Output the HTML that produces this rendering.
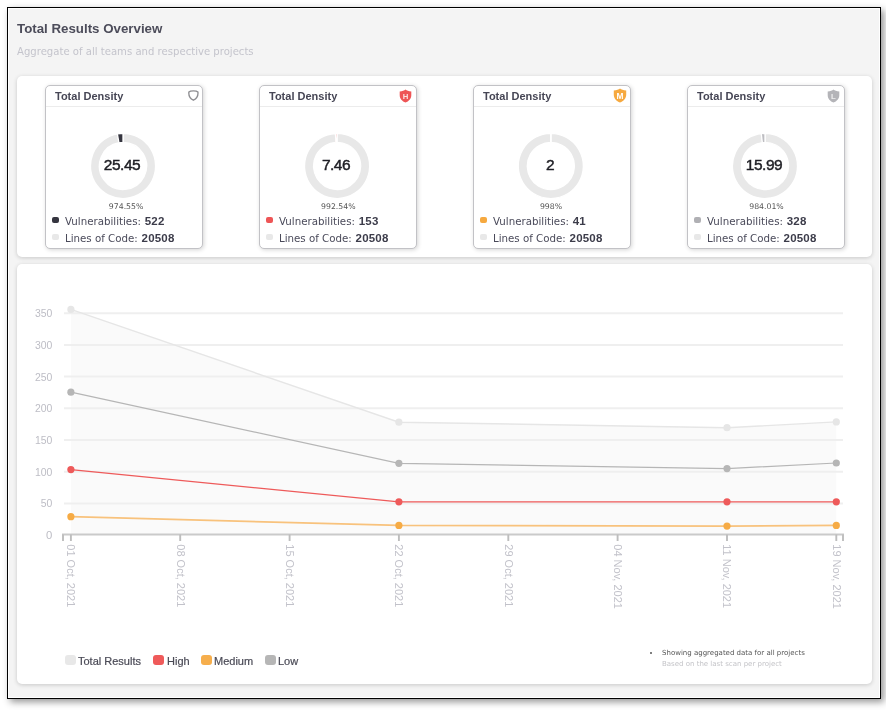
<!DOCTYPE html>
<html><head><meta charset="utf-8"><style>
*{margin:0;padding:0;box-sizing:border-box}
html,body{width:886px;height:711px;background:#fff;overflow:hidden}
body{position:relative;font-family:"DejaVu Sans","Liberation Sans",sans-serif;color:#444}
.frame{position:absolute;left:7px;top:7px;width:874px;height:692px;border:1px solid #000;background:#f4f4f4;box-shadow:3px 3px 7px rgba(0,0,0,.42), inset 0 0 0 1px #fff}
.title{position:absolute;left:17px;top:20.5px;font:bold 13.3px "Liberation Sans",sans-serif;color:#4c4c5a;white-space:nowrap}
.sub{position:absolute;left:17px;top:46px;font-size:10.1px;color:#c4c4cc;white-space:nowrap}
.panel{position:absolute;left:17px;width:855px;background:#fff;border-radius:5px;box-shadow:0 1px 4px rgba(0,0,0,.18)}
.p1{top:76px;height:181px}
.p2{top:264px;height:420px}
.card{position:absolute;top:85px;width:158px;height:164px;border:1px solid #c2c2c6;border-radius:5px;background:#fff;box-shadow:1px 1px 4px rgba(0,0,0,.17)}
.card .hd{position:absolute;left:0;top:0;right:0;height:21px;border-bottom:1px solid #ececec}
.card .ht{position:absolute;left:9px;top:4px;font:bold 11px "Liberation Sans",sans-serif;color:#464655;white-space:nowrap}
.card svg.ic{position:absolute}
.card .donut{position:absolute;left:44px;top:47px}
.card .val{position:absolute;left:-2px;width:100%;top:69.5px;text-align:center;font:15.5px "Liberation Sans",sans-serif;letter-spacing:-0.5px;-webkit-text-stroke:0.45px #1e1e24;color:#1e1e24}
.card .pct{position:absolute;left:1px;width:100%;top:115.5px;text-align:center;font:7.75px "DejaVu Sans",sans-serif;color:#555}
.card .row{position:absolute;left:6px;font-size:10.25px;color:#4a4a5a;white-space:nowrap}
.card .row b{font:bold 11.5px "Liberation Sans",sans-serif;letter-spacing:0.2px;margin-left:0.5px;color:#3c3c4a}
.card .sw{display:inline-block;width:7px;height:6px;border-radius:2px;margin-right:6px;vertical-align:2px}
.r1{top:129px}.r2{top:145.7px}
.leg{position:absolute;top:655px;font:11px "Liberation Sans",sans-serif;-webkit-text-stroke:0.2px #4a4a56;color:#4a4a56;white-space:nowrap}
.leg i{position:absolute;top:0;width:11px;height:10px;border-radius:3px}
.foot{position:absolute;left:662px;margin-top:1px;white-space:nowrap;font-size:7px}

</style></head><body>
<div class="frame"></div>
<div class="title">Total Results Overview</div>
<div class="sub">Aggregate of all teams and respective projects</div>
<div class="panel p1"></div>
<div class="panel p2"></div>
<div class="card" style="left:45px">
  <div class="hd"></div><div class="ht">Total Density</div>
  <svg class="ic" style="left:142px;top:4px" width="12" height="12" viewBox="0 0 12 12"><path d="M5.4 0.8 C7.4 0.8 9.2 1.2 9.9 1.9 C10.3 5.2 8.6 8.6 5.4 10.2 C2.2 8.6 0.5 5.2 0.9 1.9 C1.6 1.2 3.4 0.8 5.4 0.8 Z" fill="#fff" stroke="#8e8e92" stroke-width="1.35"/></svg>
  <svg class="donut" width="66" height="66" viewBox="0 0 66 66"><path d="M33.00 0.45 A32.55 32.55 0 1 1 27.82 0.87 L29.25 9.75 A23.55 23.55 0 1 0 33.00 9.45 Z" fill="#e8e8e8" stroke="#fff" stroke-width="1.3"/><path d="M27.37 0.94 A32.55 32.55 0 0 1 33.00 0.45 L33.00 9.45 A23.55 23.55 0 0 0 28.93 9.81 Z" fill="#35353f" stroke="#fff" stroke-width="1.3"/></svg>
  <div class="val">25.45</div>
  <div class="pct" style="left:2.1px">974.55%</div>
  <div class="row r1"><span class="sw" style="background:#35353f"></span>Vulnerabilities: <b>522</b></div>
  <div class="row r2"><span class="sw" style="background:#e8e8e8"></span>Lines of Code: <b>20508</b></div>
</div><div class="card" style="left:259px">
  <div class="hd"></div><div class="ht">Total Density</div>
  <svg class="ic" style="left:139.2px;top:2.9px" width="13" height="14" viewBox="0 0 13 14"><path d="M6.5 0.5 C7.6 1.5 9.8 2.2 12.3 2.4 L12.3 6.2 C12.3 9.6 9.8 12.3 6.5 13.5 C3.2 12.3 0.7 9.6 0.7 6.2 L0.7 2.4 C3.2 2.2 5.4 1.5 6.5 0.5 Z" fill="#ee5556"/><text x="6.5" y="10" text-anchor="middle" font-family="Liberation Sans, sans-serif" font-weight="bold" font-size="7.8" fill="#fbe0e0">H</text></svg>
  <svg class="donut" width="66" height="66" viewBox="0 0 66 66"><path d="M33.00 0.45 A32.55 32.55 0 1 1 31.47 0.49 L31.90 9.48 A23.55 23.55 0 1 0 33.00 9.45 Z" fill="#e8e8e8" stroke="#fff" stroke-width="1.3"/><path d="M31.47 0.49 A32.55 32.55 0 0 1 33.00 0.45 L33.00 9.45 A23.55 23.55 0 0 0 31.90 9.48 Z" fill="#ee5556" stroke="#fff" stroke-width="1.3"/></svg>
  <div class="val">7.46</div>
  <div class="pct" style="left:0.3px">992.54%</div>
  <div class="row r1"><span class="sw" style="background:#ee5556"></span>Vulnerabilities: <b>153</b></div>
  <div class="row r2"><span class="sw" style="background:#e8e8e8"></span>Lines of Code: <b>20508</b></div>
</div><div class="card" style="left:473px">
  <div class="hd"></div><div class="ht">Total Density</div>
  <svg class="ic" style="left:139.25px;top:2.3px" width="14" height="15" viewBox="0 0 13 14"><path d="M6.5 0.5 C7.6 1.5 9.8 2.2 12.3 2.4 L12.3 6.2 C12.3 9.6 9.8 12.3 6.5 13.5 C3.2 12.3 0.7 9.6 0.7 6.2 L0.7 2.4 C3.2 2.2 5.4 1.5 6.5 0.5 Z" fill="#f6a93f"/><text x="6.5" y="10" text-anchor="middle" font-family="Liberation Sans, sans-serif" font-weight="bold" font-size="7.8" fill="#fff">M</text></svg>
  <svg class="donut" width="66" height="66" viewBox="0 0 66 66"><path d="M33.00 0.45 A32.55 32.55 0 1 1 32.59 0.45 L32.70 9.45 A23.55 23.55 0 1 0 33.00 9.45 Z" fill="#e8e8e8" stroke="#fff" stroke-width="1.3"/><path d="M32.59 0.45 A32.55 32.55 0 0 1 33.00 0.45 L33.00 9.45 A23.55 23.55 0 0 0 32.70 9.45 Z" fill="#f6a93f" stroke="#fff" stroke-width="1.3"/></svg>
  <div class="val">2</div>
  <div class="pct" style="left:-1px">998%</div>
  <div class="row r1"><span class="sw" style="background:#f6a93f"></span>Vulnerabilities: <b>41</b></div>
  <div class="row r2"><span class="sw" style="background:#e8e8e8"></span>Lines of Code: <b>20508</b></div>
</div><div class="card" style="left:687px">
  <div class="hd"></div><div class="ht">Total Density</div>
  <svg class="ic" style="left:139.2px;top:2.9px" width="13" height="14" viewBox="0 0 13 14"><path d="M6.5 0.5 C7.6 1.5 9.8 2.2 12.3 2.4 L12.3 6.2 C12.3 9.6 9.8 12.3 6.5 13.5 C3.2 12.3 0.7 9.6 0.7 6.2 L0.7 2.4 C3.2 2.2 5.4 1.5 6.5 0.5 Z" fill="#b4b4b8"/><text x="6.5" y="10" text-anchor="middle" font-family="Liberation Sans, sans-serif" font-weight="bold" font-size="7.8" fill="#eee">L</text></svg>
  <svg class="donut" width="66" height="66" viewBox="0 0 66 66"><path d="M33.00 0.45 A32.55 32.55 0 1 1 29.73 0.61 L30.64 9.57 A23.55 23.55 0 1 0 33.00 9.45 Z" fill="#e8e8e8" stroke="#fff" stroke-width="1.3"/><path d="M29.28 0.66 A32.55 32.55 0 0 1 33.00 0.45 L33.00 9.45 A23.55 23.55 0 0 0 30.31 9.60 Z" fill="#bdbdc1" stroke="#fff" stroke-width="1.3"/></svg>
  <div class="val">15.99</div>
  <div class="pct" style="left:0.5px">984.01%</div>
  <div class="row r1"><span class="sw" style="background:#b0b0b4"></span>Vulnerabilities: <b>328</b></div>
  <div class="row r2"><span class="sw" style="background:#e8e8e8"></span>Lines of Code: <b>20508</b></div>
</div>
<svg id="chart" style="position:absolute;left:0;top:0" width="886" height="711" viewBox="0 0 886 711">
<polygon points="70.9,534.5 70.9,309.45 398.9,422.20 727.0,427.70 836.3,421.90 836.3,534.5" fill="#fafafa"/>
<line x1="64" y1="503.4" x2="843" y2="503.4" stroke="#efefef" stroke-width="2"/>
<line x1="64" y1="471.7" x2="843" y2="471.7" stroke="#efefef" stroke-width="2"/>
<line x1="64" y1="440.0" x2="843" y2="440.0" stroke="#efefef" stroke-width="2"/>
<line x1="64" y1="408.3" x2="843" y2="408.3" stroke="#efefef" stroke-width="2"/>
<line x1="64" y1="376.6" x2="843" y2="376.6" stroke="#efefef" stroke-width="2"/>
<line x1="64" y1="344.9" x2="843" y2="344.9" stroke="#efefef" stroke-width="2"/>
<line x1="64" y1="313.2" x2="843" y2="313.2" stroke="#efefef" stroke-width="2"/>
<text x="52.3" y="539.1" text-anchor="end" font-family="Liberation Sans, sans-serif" font-size="11.3" fill="#bdbdc5">0</text>
<text x="52.3" y="507.4" text-anchor="end" font-family="Liberation Sans, sans-serif" font-size="11.3" textLength="11.6" lengthAdjust="spacingAndGlyphs" fill="#bdbdc5">50</text>
<text x="52.3" y="475.7" text-anchor="end" font-family="Liberation Sans, sans-serif" font-size="11.3" textLength="17.4" lengthAdjust="spacingAndGlyphs" fill="#bdbdc5">100</text>
<text x="52.3" y="444.0" text-anchor="end" font-family="Liberation Sans, sans-serif" font-size="11.3" textLength="17.4" lengthAdjust="spacingAndGlyphs" fill="#bdbdc5">150</text>
<text x="52.3" y="412.3" text-anchor="end" font-family="Liberation Sans, sans-serif" font-size="11.3" textLength="17.4" lengthAdjust="spacingAndGlyphs" fill="#bdbdc5">200</text>
<text x="52.3" y="380.6" text-anchor="end" font-family="Liberation Sans, sans-serif" font-size="11.3" textLength="17.4" lengthAdjust="spacingAndGlyphs" fill="#bdbdc5">250</text>
<text x="52.3" y="348.9" text-anchor="end" font-family="Liberation Sans, sans-serif" font-size="11.3" textLength="17.4" lengthAdjust="spacingAndGlyphs" fill="#bdbdc5">300</text>
<text x="52.3" y="317.2" text-anchor="end" font-family="Liberation Sans, sans-serif" font-size="11.3" textLength="17.4" lengthAdjust="spacingAndGlyphs" fill="#bdbdc5">350</text>
<line x1="62" y1="534.5" x2="844" y2="534.5" stroke="#cacaca" stroke-width="2"/>
<line x1="63.0" y1="534.5" x2="63.0" y2="541" stroke="#bdbdbd" stroke-width="1.9"/>
<line x1="70.9" y1="534.5" x2="70.9" y2="541" stroke="#bdbdbd" stroke-width="1.9"/>
<line x1="180.2" y1="534.5" x2="180.2" y2="541" stroke="#bdbdbd" stroke-width="1.9"/>
<line x1="289.6" y1="534.5" x2="289.6" y2="541" stroke="#bdbdbd" stroke-width="1.9"/>
<line x1="398.9" y1="534.5" x2="398.9" y2="541" stroke="#bdbdbd" stroke-width="1.9"/>
<line x1="508.3" y1="534.5" x2="508.3" y2="541" stroke="#bdbdbd" stroke-width="1.9"/>
<line x1="617.6" y1="534.5" x2="617.6" y2="541" stroke="#bdbdbd" stroke-width="1.9"/>
<line x1="727.0" y1="534.5" x2="727.0" y2="541" stroke="#bdbdbd" stroke-width="1.9"/>
<line x1="836.3" y1="534.5" x2="836.3" y2="541" stroke="#bdbdbd" stroke-width="1.9"/>
<line x1="843.0" y1="534.5" x2="843.0" y2="541" stroke="#bdbdbd" stroke-width="1.9"/>
<text transform="translate(67.3,544.3) rotate(90)" font-family="Liberation Sans, sans-serif" font-size="11" fill="#c2c2ca">01 Oct, 2021</text>
<text transform="translate(176.6,544.3) rotate(90)" font-family="Liberation Sans, sans-serif" font-size="11" fill="#c2c2ca">08 Oct, 2021</text>
<text transform="translate(286.0,544.3) rotate(90)" font-family="Liberation Sans, sans-serif" font-size="11" fill="#c2c2ca">15 Oct, 2021</text>
<text transform="translate(395.3,544.3) rotate(90)" font-family="Liberation Sans, sans-serif" font-size="11" fill="#c2c2ca">22 Oct, 2021</text>
<text transform="translate(504.7,544.3) rotate(90)" font-family="Liberation Sans, sans-serif" font-size="11" fill="#c2c2ca">29 Oct, 2021</text>
<text transform="translate(614.0,544.3) rotate(90)" font-family="Liberation Sans, sans-serif" font-size="11" fill="#c2c2ca">04 Nov, 2021</text>
<text transform="translate(723.4,544.3) rotate(90)" font-family="Liberation Sans, sans-serif" font-size="11" fill="#c2c2ca">11 Nov, 2021</text>
<text transform="translate(832.7,544.3) rotate(90)" font-family="Liberation Sans, sans-serif" font-size="11" fill="#c2c2ca">19 Nov, 2021</text>
<polyline points="70.9,309.45 398.9,422.20 727.0,427.70 836.3,421.90" fill="none" stroke="#e6e6e6" stroke-width="1.4"/><circle cx="70.9" cy="309.45" r="3.6" fill="#e6e6e6"/><circle cx="398.9" cy="422.20" r="3.6" fill="#e6e6e6"/><circle cx="727.0" cy="427.70" r="3.6" fill="#e6e6e6"/><circle cx="836.3" cy="421.90" r="3.6" fill="#e6e6e6"/>
<polyline points="70.9,392.20 398.9,463.30 727.0,468.60 836.3,463.00" fill="none" stroke="#b6b6b6" stroke-width="1.2"/><circle cx="70.9" cy="392.20" r="3.6" fill="#b6b6b6"/><circle cx="398.9" cy="463.30" r="3.6" fill="#b6b6b6"/><circle cx="727.0" cy="468.60" r="3.6" fill="#b6b6b6"/><circle cx="836.3" cy="463.00" r="3.6" fill="#b6b6b6"/>
<polyline points="70.9,469.60 398.9,501.85 727.0,501.80 836.3,501.80" fill="none" stroke="#ee5a5a" stroke-width="1.2"/><circle cx="70.9" cy="469.60" r="3.6" fill="#ee5a5a"/><circle cx="398.9" cy="501.85" r="3.6" fill="#ee5a5a"/><circle cx="727.0" cy="501.80" r="3.6" fill="#ee5a5a"/><circle cx="836.3" cy="501.80" r="3.6" fill="#ee5a5a"/>
<polyline points="70.9,516.65 398.9,525.40 727.0,526.10 836.3,525.40" fill="none" stroke="#f8c27c" stroke-width="1.8"/><circle cx="70.9" cy="516.65" r="3.6" fill="#f6ab45"/><circle cx="398.9" cy="525.40" r="3.6" fill="#f6ab45"/><circle cx="727.0" cy="526.10" r="3.6" fill="#f6ab45"/><circle cx="836.3" cy="525.40" r="3.6" fill="#f6ab45"/>
</svg>
<div class="leg" style="left:65px"><i style="left:0;background:#e8e8e8"></i><span style="position:absolute;left:13px;top:0px">Total Results</span></div>
<div class="leg" style="left:153px"><i style="left:0;background:#ef5a5a"></i><span style="position:absolute;left:14px;top:0px">High</span></div>
<div class="leg" style="left:201px"><i style="left:0;background:#f6ae4c"></i><span style="position:absolute;left:13px;top:0px">Medium</span></div>
<div class="leg" style="left:265px"><i style="left:0;background:#b6b6b6"></i><span style="position:absolute;left:13px;top:0px">Low</span></div>
<div style="position:absolute;left:649.5px;top:651.5px;width:2.5px;height:2.5px;border-radius:50%;background:#555"></div>
<div class="foot" style="top:648px;color:#555">Showing aggregated data for all projects</div>
<div class="foot" style="top:659px;color:#c4c4c8">Based on the last scan per project</div>
</body></html>
